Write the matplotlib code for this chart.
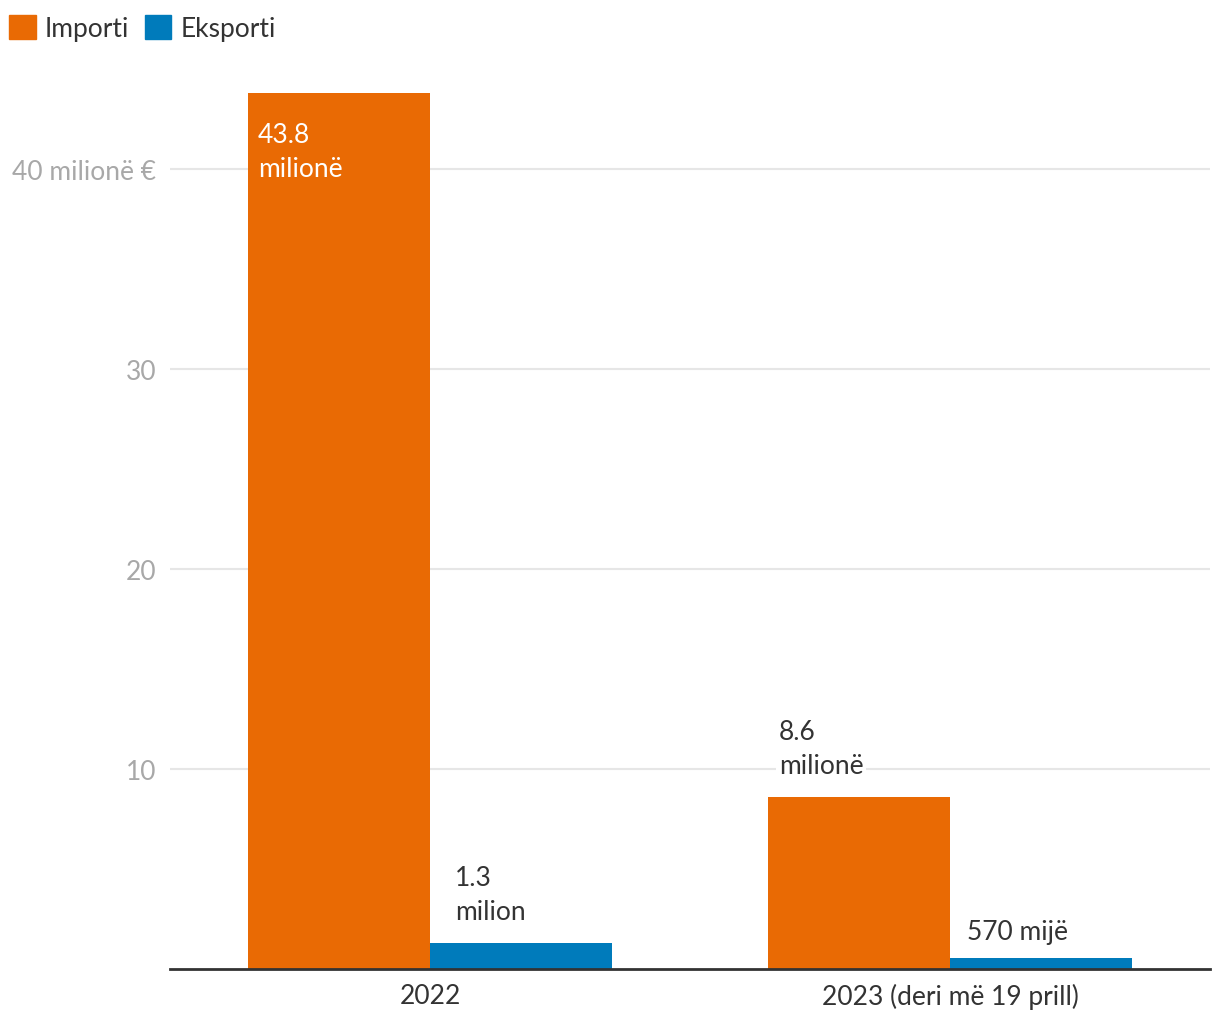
import matplotlib
matplotlib.use("Agg")
import matplotlib.pyplot as plt
from matplotlib.patches import Patch

plt.rcParams['font.family'] = ['Lato', 'DejaVu Sans']

# data
categories = ['2022', '2023 (deri më 19 prill)']
importi = [43.8, 8.6]
eksporti = [1.3, 0.57]
importi_labels = ['43.8\nmilionë', '8.6\nmilionë']
eksporti_labels = ['1.3\nmilion', '570 mijë']
yticks = [10, 20, 30, 40]
ytick_labels = ['10', '20', '30', '40 milionë €']

ORANGE = '#E96A04'
BLUE = '#007BBB'
DARK = '#333333'
GREY = '#A8A8A8'
FS = 19
LS = 1.42

fig = plt.figure(figsize=(12.2, 10.2), dpi=100)
ax = fig.add_axes([170 / 1220, 50 / 1020, 1040 / 1220, 900 / 1020])

x = list(range(len(categories)))
w = 0.35
ax.bar([i - w / 2 for i in x], importi, width=w, color=ORANGE, zorder=2)
ax.bar([i + w / 2 for i in x], eksporti, width=w, color=BLUE, zorder=2)

ax.set_xlim(-0.5, 1.5)
ax.set_ylim(0, 45)

# value labels
# first orange bar: inside, white; the rest above the bar
box = dict(boxstyle='square,pad=0.1', fc='white', ec='none')
ax.annotate(importi_labels[0], xy=(x[0] - w, importi[0]), xytext=(7, -21),
            textcoords='offset points', ha='left', va='top', color='white',
            fontsize=FS, linespacing=LS, zorder=4)
ax.annotate(importi_labels[1], xy=(x[1] - w, importi[1]), xytext=(8, 14),
            textcoords='offset points', ha='left', va='bottom', color=DARK,
            fontsize=FS, linespacing=LS, zorder=4, bbox=box)
ax.annotate(eksporti_labels[0], xy=(x[0], eksporti[0]), xytext=(18, 14),
            textcoords='offset points', ha='left', va='bottom', color=DARK,
            fontsize=FS, linespacing=LS, zorder=4, bbox=box)
ax.annotate(eksporti_labels[1], xy=(x[1], eksporti[1]), xytext=(12, 10),
            textcoords='offset points', ha='left', va='bottom', color=DARK,
            fontsize=FS, linespacing=LS, zorder=4, bbox=box)

# axes styling
ax.set_yticks(yticks)
ax.set_yticklabels(ytick_labels)
ax.set_xticks(x)
ax.set_xticklabels(categories)
ax.tick_params(axis='y', length=0, pad=10, labelsize=FS, labelcolor=GREY)
ax.tick_params(axis='x', length=0, pad=10, labelsize=FS, labelcolor=DARK)
ax.grid(axis='y', color='#E6E6E6', linewidth=1.5, zorder=0)
ax.set_axisbelow(True)
for s in ['top', 'right', 'left']:
    ax.spines[s].set_visible(False)
ax.spines['bottom'].set_color(DARK)
ax.spines['bottom'].set_linewidth(2)
ax.spines['bottom'].set_zorder(3)

handles = [Patch(color=ORANGE, label='Importi'), Patch(color=BLUE, label='Eksporti')]
fig.legend(handles=handles, loc='upper left', bbox_to_anchor=(0.0, 0.993),
           ncol=2, frameon=False, fontsize=FS, labelcolor=DARK,
           handlelength=1.0, handleheight=1.0, handletextpad=0.35,
           columnspacing=0.6, borderaxespad=0.1, borderpad=0.25)

fig.savefig('out.png', dpi=100, facecolor='white')
